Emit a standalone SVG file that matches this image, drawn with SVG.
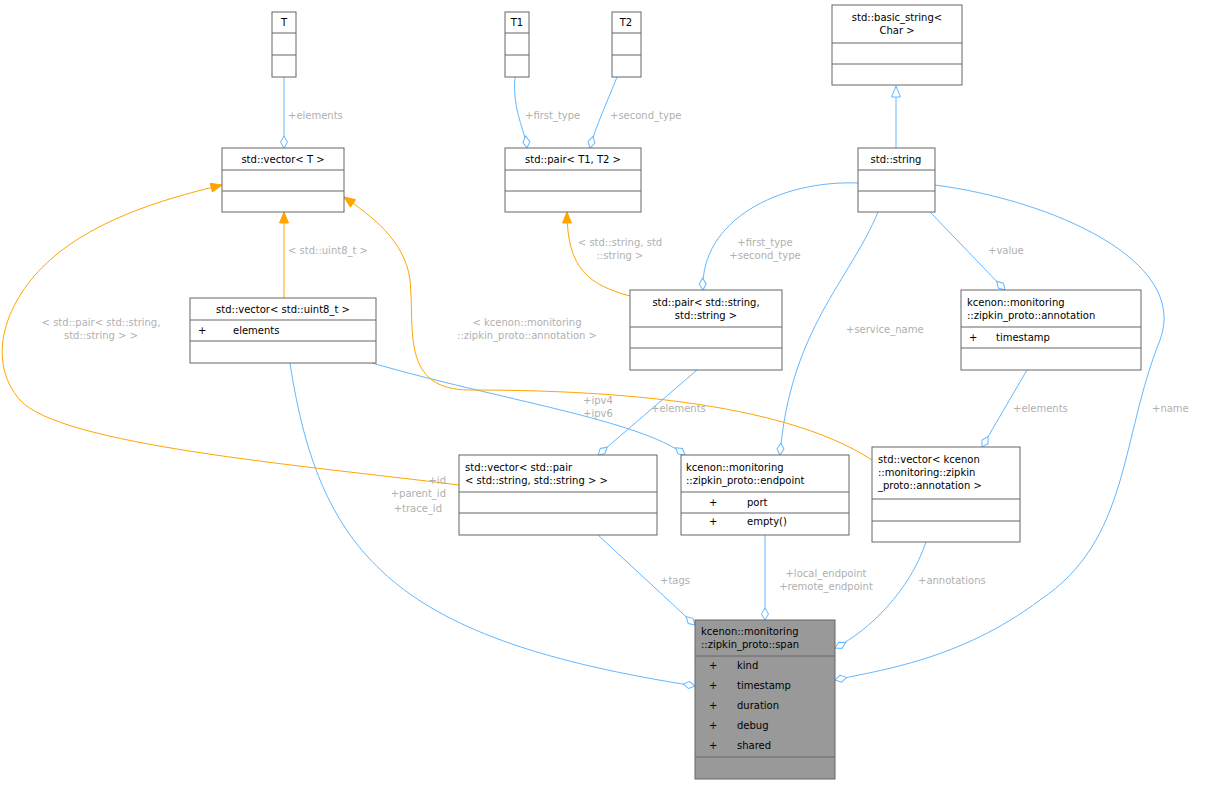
<svg xmlns="http://www.w3.org/2000/svg" width="1205" height="785" viewBox="0 0 1205 785">
<style>
text{font-family:"DejaVu Sans","Noto Sans",sans-serif;font-size:10px}
.n rect{fill:#fff;stroke:#666}
.n line{stroke:#666}
.t{text-anchor:middle;fill:#000}
.l{fill:#b0b0b0;font-size:10px}
.lc{fill:#b0b0b0;text-anchor:middle}
.b{fill:none;stroke:#63b8ff;stroke-width:1;marker-end:url(#dia)}
.o{fill:none;stroke:#ffa500;stroke-width:1;marker-end:url(#arr)}
</style>
<defs>
<marker id="dia" markerUnits="userSpaceOnUse" orient="auto" refX="12" refY="0" markerWidth="14" markerHeight="10" viewBox="-1 -5 14 10"><path d="M0,0 L6,-3.5 L12,0 L6,3.5 Z" fill="#fff" stroke="#63b8ff"/></marker>
<marker id="arr" markerUnits="userSpaceOnUse" orient="auto" refX="11" refY="0" markerWidth="13" markerHeight="10" viewBox="-1 -5 13 10"><path d="M0,-4.5 L11,0 L0,4.5 Z" fill="#ffa500" stroke="#ffa500"/></marker>
<marker id="inh" markerUnits="userSpaceOnUse" orient="auto" refX="11" refY="0" markerWidth="13" markerHeight="10" viewBox="-1 -5 13 10"><path d="M0,-4.5 L11,0 L0,4.5 Z" fill="#fff" stroke="#63b8ff"/></marker>
</defs>
<rect width="1205" height="785" fill="#fff"/>
<g id="edges">
<path class="b" d="M284,77 L284,148"/>
<path class="b" d="M515,77 C512,110 525,130 527,148"/>
<path class="b" d="M617,77 C608,100 595,128 590,148"/>
<path d="M896,148 L896,86" fill="none" stroke="#63b8ff" marker-end="url(#inh)"/>
<path class="o" d="M284,298 L284,212"/>
<path class="o" d="M630,296 C590,285 567,270 567,212"/>
<path class="b" d="M858,183 C780,180 700,220 703,290"/>
<path class="b" d="M930,212 L1005,290"/>
<path class="b" d="M878,212 C850,280 790,330 780,455"/>
<path class="b" d="M935,185 C1050,200 1190,260 1160,340 C1120,440 1130,540 1040,600 C960,660 880,670 835,680"/>
<path class="b" d="M372,363 C500,400 640,420 685,455"/>
<path class="b" d="M290,363 C320,560 400,640 695,686"/>
<path class="o" d="M459,485 C300,465 60,445 20,400 C-15,360 5,300 50,260 C100,215 180,195 222,185"/>
<path class="o" d="M872,460 C780,400 600,390 470,390 C400,390 415,330 410,280 C405,240 370,215 344,197"/>
<path class="b" d="M697,370 L598,455"/>
<path class="b" d="M1027,370 L982,447"/>
<path class="b" d="M598,535 L695,625"/>
<path class="b" d="M765,535 L765,620"/>
<path class="b" d="M926,542 C910,590 870,630 835,648"/>
<text class="l" x="288" y="119">+elements</text>
<text class="l" x="525" y="119">+first_type</text>
<text class="l" x="610" y="119">+second_type</text>
<text class="l" x="288" y="254">&lt; std::uint8_t &gt;</text>
<text class="lc" x="620" y="246">&lt; std::string, std</text>
<text class="lc" x="620" y="259">::string &gt;</text>
<text class="lc" x="765" y="246">+first_type</text>
<text class="lc" x="765" y="259">+second_type</text>
<text class="l" x="988" y="254">+value</text>
<text class="l" x="846" y="333">+service_name</text>
<text class="l" x="1152" y="412">+name</text>
<text class="lc" x="598" y="404">+ipv4</text>
<text class="lc" x="598" y="417">+ipv6</text>
<text class="l" x="651" y="412">+elements</text>
<text class="l" x="1013" y="412">+elements</text>
<text class="lc" x="101" y="326">&lt; std::pair&lt; std::string,</text>
<text class="lc" x="101" y="339">std::string &gt; &gt;</text>
<text class="lc" x="527" y="326">&lt; kcenon::monitoring</text>
<text class="lc" x="527" y="339">::zipkin_proto::annotation &gt;</text>
<text class="l" x="446" y="484" text-anchor="end">+id</text>
<text class="l" x="446" y="497" text-anchor="end">+parent_id</text>
<text class="l" x="442" y="512" text-anchor="end">+trace_id</text>
<text class="l" x="660" y="584">+tags</text>
<text class="lc" x="826" y="577">+local_endpoint</text>
<text class="lc" x="826" y="590">+remote_endpoint</text>
<text class="l" x="918" y="584">+annotations</text>
</g>
<g id="T" class="n"><rect x="272" y="12" width="24" height="65"/><line x1="272" y1="33" x2="296" y2="33"/><line x1="272" y1="55" x2="296" y2="55"/><text class="t" x="284" y="26">T</text></g>
<g id="T1" class="n"><rect x="505" y="12" width="24" height="65"/><line x1="505" y1="33" x2="529" y2="33"/><line x1="505" y1="55" x2="529" y2="55"/><text class="t" x="517" y="26">T1</text></g>
<g id="T2" class="n"><rect x="612" y="12" width="29" height="65"/><line x1="612" y1="33" x2="641" y2="33"/><line x1="612" y1="55" x2="641" y2="55"/><text class="t" x="626" y="26">T2</text></g>
<g id="basic_string" class="n"><rect x="832" y="5" width="130" height="80"/><line x1="832" y1="43" x2="962" y2="43"/><line x1="832" y1="64" x2="962" y2="64"/><text class="t" x="897" y="21">std::basic_string&lt;</text><text class="t" x="897" y="34">Char &gt;</text></g>
<g id="vectorT" class="n"><rect x="222" y="148" width="122" height="64"/><line x1="222" y1="170" x2="344" y2="170"/><line x1="222" y1="191" x2="344" y2="191"/><text class="t" x="283" y="163">std::vector&lt; T &gt;</text></g>
<g id="pairT" class="n"><rect x="505" y="148" width="136" height="64"/><line x1="505" y1="170" x2="641" y2="170"/><line x1="505" y1="191" x2="641" y2="191"/><text class="t" x="573" y="163">std::pair&lt; T1, T2 &gt;</text></g>
<g id="string" class="n"><rect x="858" y="148" width="77" height="64"/><line x1="858" y1="170" x2="935" y2="170"/><line x1="858" y1="191" x2="935" y2="191"/><text class="t" x="896" y="163">std::string</text></g>
<g id="vec_uint8" class="n"><rect x="190" y="298" width="186" height="65"/><line x1="190" y1="320" x2="376" y2="320"/><line x1="190" y1="341" x2="376" y2="341"/><text class="t" x="283" y="313">std::vector&lt; std::uint8_t &gt;</text><text x="198" y="334">+</text><text x="233" y="334">elements</text></g>
<g id="pair_str" class="n"><rect x="630" y="290" width="152" height="80"/><line x1="630" y1="327" x2="782" y2="327"/><line x1="630" y1="348" x2="782" y2="348"/><text class="t" x="706" y="306">std::pair&lt; std::string,</text><text class="t" x="706" y="319">std::string &gt;</text></g>
<g id="annotation" class="n"><rect x="961" y="290" width="180" height="80"/><line x1="961" y1="327" x2="1141" y2="327"/><line x1="961" y1="348" x2="1141" y2="348"/><text x="967" y="306">kcenon::monitoring</text><text x="967" y="319">::zipkin_proto::annotation</text><text x="969" y="341">+</text><text x="996" y="341">timestamp</text></g>
<g id="vec_pair" class="n"><rect x="459" y="455" width="198" height="80"/><line x1="459" y1="492" x2="657" y2="492"/><line x1="459" y1="513" x2="657" y2="513"/><text x="465" y="471">std::vector&lt; std::pair</text><text x="465" y="484">&lt; std::string, std::string &gt; &gt;</text></g>
<g id="endpoint" class="n"><rect x="681" y="455" width="168" height="80"/><line x1="681" y1="492" x2="849" y2="492"/><line x1="681" y1="513" x2="849" y2="513"/><text x="686" y="471">kcenon::monitoring</text><text x="686" y="484">::zipkin_proto::endpoint</text><text x="709" y="506">+</text><text x="747" y="506">port</text><text x="709" y="525">+</text><text x="747" y="525">empty()</text></g>
<g id="vec_annot" class="n"><rect x="872" y="447" width="148" height="95"/><line x1="872" y1="499" x2="1020" y2="499"/><line x1="872" y1="521" x2="1020" y2="521"/><text x="878" y="463">std::vector&lt; kcenon</text><text x="878" y="476">::monitoring::zipkin</text><text x="878" y="489">_proto::annotation &gt;</text></g>
<g id="span" class="n"><rect x="695" y="620" width="140" height="159" style="fill:#999"/><line x1="695" y1="656" x2="835" y2="656"/><line x1="695" y1="757" x2="835" y2="757"/><text x="701" y="635">kcenon::monitoring</text><text x="701" y="648">::zipkin_proto::span</text><text x="709" y="669">+</text><text x="737" y="669">kind</text><text x="709" y="689">+</text><text x="737" y="689">timestamp</text><text x="709" y="709">+</text><text x="737" y="709">duration</text><text x="709" y="729">+</text><text x="737" y="729">debug</text><text x="709" y="749">+</text><text x="737" y="749">shared</text></g>
</svg>
